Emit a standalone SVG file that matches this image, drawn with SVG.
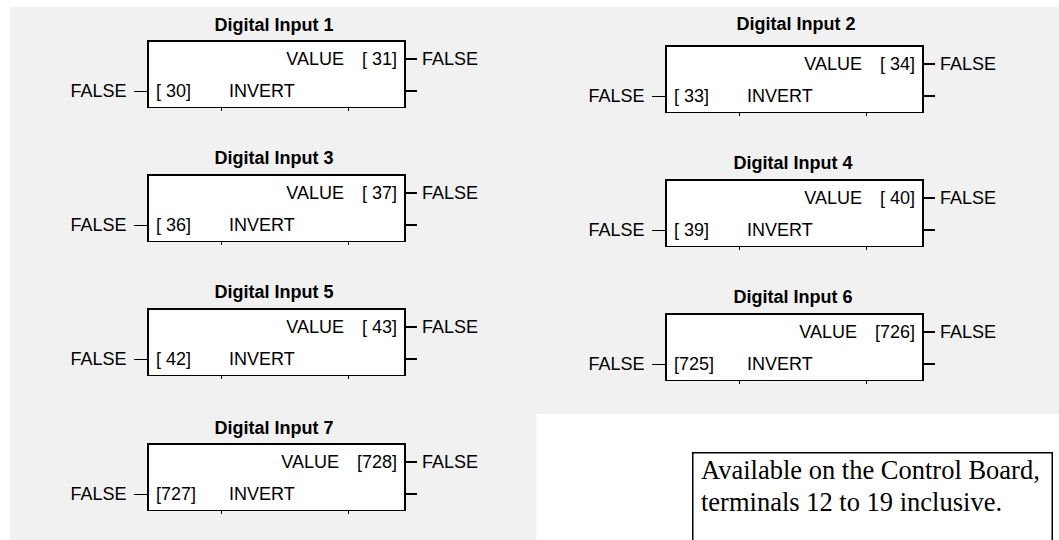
<svg xmlns="http://www.w3.org/2000/svg" width="1059" height="540" viewBox="0 0 1059 540">
<defs>
<style>
.t{font-family:"Liberation Sans",Arial,sans-serif;font-size:18px;fill:#000}
.ttl{font-weight:bold;text-anchor:middle}
.e{text-anchor:end}
.box{fill:#fff;stroke:none}
.edge{fill:none;stroke:#000;stroke-width:2}
.thin{fill:none;stroke:#000;stroke-width:1}
.stub{fill:none;stroke:#000;stroke-width:1}
.out{fill:none;stroke:#000;stroke-width:2}
.note{font-family:"Liberation Serif","Times New Roman",serif;font-size:26.5px;fill:#000}
</style>
</defs>
<rect x="0" y="0" width="1059" height="540" fill="#fff"/>
<rect x="10" y="7" width="1049" height="533" fill="#f1f1f1"/>
<rect x="536.5" y="414" width="522.5" height="126" fill="#fff"/>

<g id="di1" transform="translate(147,40)">
<text class="t ttl" x="127" y="-9.5">Digital Input 1</text>
<rect class="box" x="0" y="0" width="259" height="68"/>
<path class="edge" d="M1,68 V1 H258 V68"/>
<path class="thin" d="M0,67.5 H259 M74.5,67 V71 M201.5,67 V71"/>
<text class="t e" x="197" y="24.5">VALUE</text>
<text class="t e" x="250" y="24.5">[ 31]</text>
<text class="t" x="9" y="57">[ 30]</text>
<text class="t" x="82" y="57">INVERT</text>
<text class="t e" x="-20.5" y="57">FALSE</text>
<text class="t" x="275" y="24.5">FALSE</text>
</g>

<g id="di2" transform="translate(665,45)">
<text class="t ttl" x="131" y="-15">Digital Input 2</text>
<rect class="box" x="0" y="0" width="259" height="68"/>
<path class="edge" d="M1,68 V1 H258 V68"/>
<path class="thin" d="M0,67.5 H259 M74.5,67 V71 M201.5,67 V71"/>
<text class="t e" x="197" y="24.5">VALUE</text>
<text class="t e" x="250" y="24.5">[ 34]</text>
<text class="t" x="9" y="57">[ 33]</text>
<text class="t" x="82" y="57">INVERT</text>
<text class="t e" x="-20.5" y="57">FALSE</text>
<text class="t" x="275" y="24.5">FALSE</text>
</g>

<g id="di3" transform="translate(147,174)">
<text class="t ttl" x="127" y="-10.5">Digital Input 3</text>
<rect class="box" x="0" y="0" width="259" height="68"/>
<path class="edge" d="M1,68 V1 H258 V68"/>
<path class="thin" d="M0,67.5 H259 M74.5,67 V71 M201.5,67 V71"/>
<text class="t e" x="197" y="24.5">VALUE</text>
<text class="t e" x="250" y="24.5">[ 37]</text>
<text class="t" x="9" y="57">[ 36]</text>
<text class="t" x="82" y="57">INVERT</text>
<text class="t e" x="-20.5" y="57">FALSE</text>
<text class="t" x="275" y="24.5">FALSE</text>
</g>

<g id="di4" transform="translate(665,179)">
<text class="t ttl" x="128" y="-10.5">Digital Input 4</text>
<rect class="box" x="0" y="0" width="259" height="68"/>
<path class="edge" d="M1,68 V1 H258 V68"/>
<path class="thin" d="M0,67.5 H259 M74.5,67 V71 M201.5,67 V71"/>
<text class="t e" x="197" y="24.5">VALUE</text>
<text class="t e" x="250" y="24.5">[ 40]</text>
<text class="t" x="9" y="57">[ 39]</text>
<text class="t" x="82" y="57">INVERT</text>
<text class="t e" x="-20.5" y="57">FALSE</text>
<text class="t" x="275" y="24.5">FALSE</text>
</g>

<g id="di5" transform="translate(147,308)">
<text class="t ttl" x="127" y="-10">Digital Input 5</text>
<rect class="box" x="0" y="0" width="259" height="68"/>
<path class="edge" d="M1,68 V1 H258 V68"/>
<path class="thin" d="M0,67.5 H259 M74.5,67 V71 M201.5,67 V71"/>
<text class="t e" x="197" y="24.5">VALUE</text>
<text class="t e" x="250" y="24.5">[ 43]</text>
<text class="t" x="9" y="57">[ 42]</text>
<text class="t" x="82" y="57">INVERT</text>
<text class="t e" x="-20.5" y="57">FALSE</text>
<text class="t" x="275" y="24.5">FALSE</text>
</g>

<g id="di6" transform="translate(665,313)">
<text class="t ttl" x="128" y="-10">Digital Input 6</text>
<rect class="box" x="0" y="0" width="259" height="68"/>
<path class="edge" d="M1,68 V1 H258 V68"/>
<path class="thin" d="M0,67.5 H259 M74.5,67 V71 M201.5,67 V71"/>
<text class="t e" x="192" y="24.5">VALUE</text>
<text class="t e" x="250" y="24.5">[726]</text>
<text class="t" x="9" y="57">[725]</text>
<text class="t" x="82" y="57">INVERT</text>
<text class="t e" x="-20.5" y="57">FALSE</text>
<text class="t" x="275" y="24.5">FALSE</text>
</g>

<g id="di7" transform="translate(147,443)">
<text class="t ttl" x="127" y="-9.5">Digital Input 7</text>
<rect class="box" x="0" y="0" width="259" height="68"/>
<path class="edge" d="M1,68 V1 H258 V68"/>
<path class="thin" d="M0,67.5 H259 M74.5,67 V71 M201.5,67 V71"/>
<text class="t e" x="192" y="24.5">VALUE</text>
<text class="t e" x="250" y="24.5">[728]</text>
<text class="t" x="9" y="57">[727]</text>
<text class="t" x="82" y="57">INVERT</text>
<text class="t e" x="-20.5" y="57">FALSE</text>
<text class="t" x="275" y="24.5">FALSE</text>
</g>

<g id="connectors">
<path class="stub" d="M134,91.5 H147 M652,96.5 H665 M134,225.5 H147 M652,230.5 H665 M134,359.5 H147 M652,364.5 H665 M134,494.5 H147"/>
<path class="out" d="M406,59 H417 M406,91 H417 M924,64 H935 M924,96 H935 M406,193 H417 M406,225 H417 M924,198 H935 M924,230 H935 M406,327 H417 M406,359 H417 M924,332 H935 M924,364 H935 M406,462 H417 M406,494 H417"/>
</g>

<g id="note">
<rect x="692.75" y="452.75" width="359.5" height="100" fill="#fff" stroke="#000" stroke-width="1.5"/>
<text class="note" x="701" y="479">Available on the Control Board,</text>
<text class="note" x="701" y="511">terminals 12 to 19 inclusive.</text>
</g>
</svg>
